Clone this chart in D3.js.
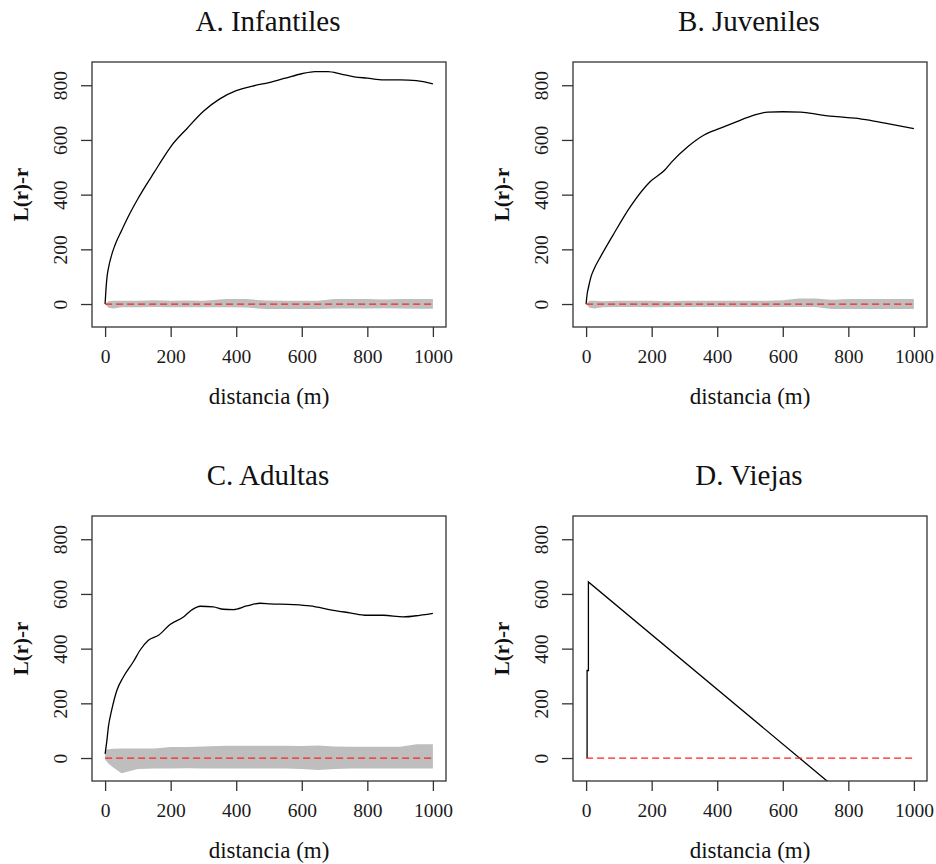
<!DOCTYPE html>
<html>
<head>
<meta charset="utf-8">
<script src="https://cdn.jsdelivr.net/npm/d3@7.9.0/dist/d3.min.js"></script>
<style>
  body { margin: 0; background: #fff; }
  svg { display: block; font-family: "Liberation Serif", "DejaVu Serif", serif; }
</style>
</head>
<body>
<div id="chart"></div>
<script>
const infR = [0, 3, 6, 10, 20, 30, 50, 75, 100, 125, 150, 175, 200, 250, 300, 350, 400, 450, 500, 550, 600, 640, 680, 720, 760, 800, 850, 900, 950, 1000];
const infL = [0, 60, 100, 130, 180, 215, 268, 330, 385, 435, 482, 530, 575, 642, 705, 750, 780, 797, 810, 826, 842, 850, 850, 841, 831, 826, 820, 820, 817, 805];

const juvR = [0, 3, 8, 15, 25, 45, 85, 135, 195, 240, 260, 310, 360, 410, 460, 510, 555, 600, 655, 715, 765, 820, 870, 920, 1000];
const juvL = [0, 35, 65, 100, 130, 175, 258, 356, 447, 490, 518, 575, 618, 643, 667, 690, 702, 703, 702, 692, 685, 680, 671, 660, 641];

const adultR = [0, 5, 10, 20, 36, 56, 86, 107, 132, 163, 198, 239, 264, 290, 330, 361, 391, 432, 473, 503, 574, 625, 696, 747, 798, 849, 910, 960, 1000];
const adultL = [15, 60, 114, 175, 248, 297, 352, 395, 431, 449, 488, 516, 541, 555, 553, 544, 543, 556, 566, 564, 561, 556, 540, 531, 522, 522, 516, 522, 529];

const oldR = [3, 3, 7, 7, 1000];
const oldL = [0, 320, 320, 644, -349];

// simulation envelopes (grey band)
const bandR = [0, 10, 25, 50, 100, 150, 200, 250, 300, 370, 430, 490, 550, 600, 650, 700, 750, 800, 850, 900, 950, 1000];
const infHi = [0, 10, 12, 12, 12, 14, 12, 13, 12, 18, 18, 13, 12, 12, 12, 18, 18, 18, 17, 18, 18, 18];
const infLo = [0, -14, -16, -12, -12, -11, -12, -12, -12, -12, -13, -18, -18, -18, -18, -16, -16, -16, -15, -16, -17, -17];
const juvHi = [0, 12, 12, 10, 12, 12, 12, 10, 12, 12, 12, 12, 12, 14, 20, 20, 16, 18, 18, 18, 18, 18];
const juvLo = [0, -14, -16, -12, -11, -11, -12, -11, -11, -11, -11, -11, -11, -11, -11, -11, -18, -18, -18, -18, -18, -18];
const adultHi = [28, 32, 34, 35, 35, 35, 40, 40, 42, 45, 45, 45, 45, 44, 46, 42, 41, 41, 41, 41, 50, 50];
const adultLo = [-5, -20, -35, -56, -40, -38, -38, -37, -38, -38, -38, -38, -38, -40, -44, -40, -38, -38, -38, -38, -38, -38];

const theoR = [0, 1000];
const theoL = [0, 0];

const xTicks = [0, 200, 400, 600, 800, 1000];
const yTicks = [0, 200, 400, 600, 800];

const panels = [
  { title: 'A. Infantiles', r: infR, L: infL, hi: infHi, lo: infLo, col: 0, row: 0, curve: d3.curveMonotoneX },
  { title: 'B. Juveniles', r: juvR, L: juvL, hi: juvHi, lo: juvLo, col: 1, row: 0, curve: d3.curveMonotoneX },
  { title: 'C. Adultas', r: adultR, L: adultL, hi: adultHi, lo: adultLo, col: 0, row: 1, curve: d3.curveMonotoneX },
  { title: 'D. Viejas', r: oldR, L: oldL, hi: null, lo: null, col: 1, row: 1, curve: d3.curveLinear },
];

const width = 936;
const height = 864;
const boxW = 354;
const boxH = 265;
const lefts = [92, 573];
const tops = [62, 516];

const svg = d3.select('#chart')
  .append('svg')
  .attr('width', width)
  .attr('height', height);

function drawPanel(p, i) {
  const x0 = lefts[p.col];
  const y0 = tops[p.row];

  const x = d3.scaleLinear().domain([-40, 1040]).range([x0, x0 + boxW]);
  const y = d3.scaleLinear().domain([-84, 885]).range([y0 + boxH, y0]);

  const g = svg.append('g');

  g.append('clipPath')
    .attr('id', 'clip' + i)
    .append('rect')
    .attr('x', x0).attr('y', y0)
    .attr('width', boxW).attr('height', boxH);

  const plot = g.append('g').attr('clip-path', `url(#clip${i})`);

  // envelope
  if (p.hi) {
    const band = bandR.map((r, j) => ({ r, hi: p.hi[j], lo: p.lo[j] }));
    plot.append('path')
      .datum(band)
      .attr('fill', '#bebebe')
      .attr('d', d3.area()
        .x(d => x(d.r))
        .y0(d => y(d.lo))
        .y1(d => y(d.hi)));
  }

  // observed
  const obs = p.r.map((r, j) => ({ r, L: p.L[j] }));
  plot.append('path')
    .datum(obs)
    .attr('fill', 'none')
    .attr('stroke', '#000')
    .attr('stroke-width', 1.3)
    .attr('d', d3.line().curve(p.curve).x(d => x(d.r)).y(d => y(d.L)));

  // theoretical
  const theo = theoR.map((r, j) => ({ r, L: theoL[j] }));
  plot.append('path')
    .datum(theo)
    .attr('fill', 'none')
    .attr('stroke', '#ff2020')
    .attr('stroke-width', 1.3)
    .attr('stroke-dasharray', '7,4')
    .attr('d', d3.line().x(d => x(d.r)).y(d => y(d.L)));

  // box
  g.append('rect')
    .attr('x', x0).attr('y', y0)
    .attr('width', boxW).attr('height', boxH)
    .attr('fill', 'none')
    .attr('stroke', '#333')
    .attr('stroke-width', 1.3);

  // x axis
  const xAxis = g.append('g')
    .attr('transform', `translate(0, ${y0 + boxH})`)
    .call(d3.axisBottom(x).tickValues(xTicks).tickSize(10).tickPadding(12)
      .tickSizeOuter(0).tickFormat(d3.format('d')));
  xAxis.select('.domain').remove();
  xAxis.selectAll('line').attr('stroke', '#333').attr('stroke-width', 1.3);
  xAxis.selectAll('text')
    .attr('fill', '#1a1a1a')
    .style('font-family', '"Liberation Serif", serif')
    .style('font-size', '19.5px');

  // y axis
  const yAxis = g.append('g')
    .attr('transform', `translate(${x0}, 0)`)
    .call(d3.axisLeft(y).tickValues(yTicks).tickSize(11).tickFormat(d3.format('d')));
  yAxis.select('.domain').remove();
  yAxis.selectAll('line').attr('stroke', '#333').attr('stroke-width', 1.3);
  yAxis.selectAll('text')
    .attr('x', null).attr('dy', null)
    .attr('text-anchor', 'middle')
    .attr('transform', 'translate(-25, 0) rotate(-90)')
    .attr('fill', '#1a1a1a')
    .style('font-family', '"Liberation Serif", serif')
    .style('font-size', '19.5px');

  // titles and labels
  g.append('text')
    .attr('x', x0 + boxW / 2 - 1)
    .attr('y', y0 - 31)
    .attr('text-anchor', 'middle')
    .style('font-size', '29px')
    .attr('fill', '#111')
    .text(p.title);

  g.append('text')
    .attr('x', x0 + boxW / 2)
    .attr('y', y0 + boxH + 77)
    .attr('text-anchor', 'middle')
    .style('font-size', '23px')
    .attr('fill', '#111')
    .text('distancia (m)');

  g.append('text')
    .attr('transform', `translate(${x0 - 64}, ${y0 + boxH / 2}) rotate(-90)`)
    .attr('text-anchor', 'middle')
    .style('font-size', '21px')
    .style('font-weight', 'bold')
    .attr('fill', '#111')
    .text('L(r)-r');
}

panels.forEach(drawPanel);
</script>
</body>
</html>
